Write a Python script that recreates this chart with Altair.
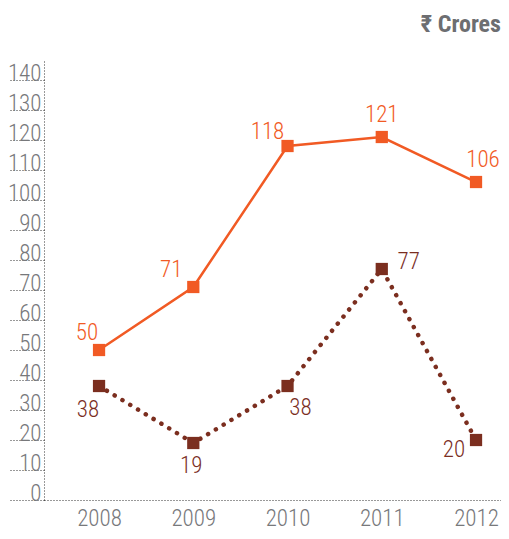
import altair as alt
import pandas as pd

years = [2008, 2009, 2010, 2011, 2012]
series_a = [50, 71, 118, 121, 106]
series_b = [38, 19, 38, 77, 20]
y_ticks = [0, 10, 20, 30, 40, 50, 60, 70, 80, 90, 100, 110, 120, 130, 140]
title_text = "₹ Crores"

# label placement (dx, dy) for each point — styling only
label_pos_a = [(-12, -17), (-22, -17), (-20, -14), (0, -22), (7, -22)]
label_pos_b = [(-11, 24), (-2, 23), (13, 22), (27, -7), (-22, 10)]

FONT = "Roboto Condensed"
ORANGE = "#f15a24"
BROWN = "#7b2e1f"
GREY = "#77787b"

df = pd.DataFrame({
    "year": years * 2,
    "value": series_a + series_b,
    "series": ["a"] * 5 + ["b"] * 5,
})

x = alt.X("year:Q", scale=alt.Scale(domain=[2007.416, 2012.265], nice=False, zero=False),
          axis=alt.Axis(values=years, format="d", title=None, grid=False, ticks=False,
                        domain=True, domainDash=[1, 2], domainColor="#333", domainWidth=1,
                        labelFont=FONT, labelFontSize=23, labelFontWeight=300,
                        labelColor=GREY, labelPadding=7))
y = alt.Y("value:Q", scale=alt.Scale(domain=[0, 146.67], nice=False),
          axis=alt.Axis(values=y_ticks, title=None, grid=False, ticks=True, tickSize=36,
                        tickDash=[1, 2], tickColor="#333", tickWidth=1,
                        domain=True, domainDash=[1, 2], domainColor="#333", domainWidth=1,
                        labelFont=FONT, labelFontSize=23, labelFontWeight=300, labelColor=GREY,
                        labelPadding=-33, labelBaseline="alphabetic", labelAlign="right"))

base = alt.Chart(df)

line_a = base.transform_filter("datum.series == 'a'").mark_line(
    color=ORANGE, strokeWidth=2.5).encode(x=x, y=y)
line_b = base.transform_filter("datum.series == 'b'").mark_line(
    color=BROWN, strokeWidth=4.5, strokeDash=[0.1, 9], strokeCap="round").encode(x=x, y=y)
pts_a = base.transform_filter("datum.series == 'a'").mark_square(
    color=ORANGE, size=150, opacity=1, filled=True).encode(x=x, y=y)
pts_b = base.transform_filter("datum.series == 'b'").mark_square(
    color=BROWN, size=150, opacity=1, filled=True).encode(x=x, y=y)

layers = [line_a, line_b, pts_a, pts_b]
for ser, pos, col in (("a", label_pos_a, ORANGE), ("b", label_pos_b, BROWN)):
    for yr, (dx, dy) in zip(years, pos):
        layers.append(
            base.transform_filter(f"datum.series == '{ser}' && datum.year == {yr}")
            .mark_text(font=FONT, fontSize=23, fontWeight=300, color=col, dx=dx, dy=dy,
                       baseline="middle")
            .encode(x=x, y=y, text=alt.Text("value:Q", format="d"))
        )

chart = alt.layer(*layers).properties(
    width=457, height=440,
    title=alt.TitleParams(title_text, anchor="end", frame="group", font=FONT, fontSize=24,
                          fontWeight="bold", color="#6d6e71", offset=23),
    autosize=alt.AutoSizeParams(type="none"),
    padding={"left": 36, "top": 52, "right": 0, "bottom": 31},
).configure_view(stroke=None)

chart.save("out.html", embed_options={"renderer": "svg", "actions": False})
